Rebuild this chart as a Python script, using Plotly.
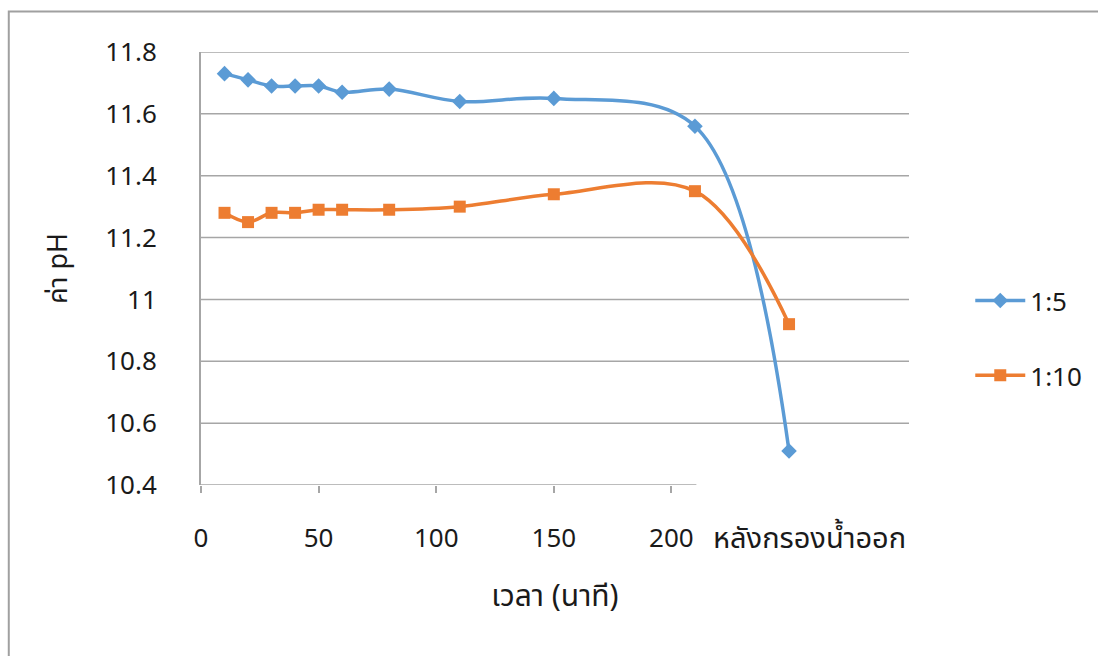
import plotly.graph_objects as go

x_vals = [10, 20, 30, 40, 50, 60, 80, 110, 150, 210, 250]
ph_1_5 = [11.73, 11.71, 11.69, 11.69, 11.69, 11.67, 11.68, 11.64, 11.65, 11.56, 10.51]
ph_1_10 = [11.28, 11.25, 11.28, 11.28, 11.29, 11.29, 11.29, 11.30, 11.34, 11.35, 10.92]
series_names = ["1:5", "1:10"]
x_ticks = [0, 50, 100, 150, 200]
y_ticks = [10.4, 10.6, 10.8, 11.0, 11.2, 11.4, 11.6, 11.8]
y_tick_text = ["10.4", "10.6", "10.8", "11", "11.2", "11.4", "11.6", "11.8"]
after_label = "หลังกรองน้ำออก"
x_title = "เวลา (นาที)"
y_title = "ค่า pH"

FONT = "Noto Sans, Noto Sans Thai, Leelawadee UI, Tahoma, DejaVu Sans, sans-serif"
TXT = "#1a1a1a"
GRID = "#a6a6a6"

fig = go.Figure()
fig.add_trace(go.Scatter(
    x=x_vals, y=ph_1_5, name=series_names[0], mode="lines+markers",
    line=dict(color="#5B9BD5", width=3.5, shape="spline", smoothing=1),
    marker=dict(symbol="diamond", size=12, color="#5B9BD5"),
    legendgroup="a"))
fig.add_trace(go.Scatter(
    x=x_vals, y=ph_1_10, name=series_names[1], mode="lines+markers",
    line=dict(color="#ED7D31", width=3.5, shape="spline", smoothing=1),
    marker=dict(symbol="square", size=12, color="#ED7D31"),
    legendgroup="b"))

# horizontal gridlines (except the bottom one, which is the axis line)
for v in y_ticks[1:]:
    fig.add_shape(type="line", xref="paper", yref="y", x0=0, x1=1, y0=v, y1=v,
                  line=dict(color=GRID, width=1.5), layer="below")
# bottom axis line, shorter than the plot area
fig.add_shape(type="line", xref="x", yref="y", x0=0, x1=210.6, y0=y_ticks[0], y1=y_ticks[0],
              line=dict(color=GRID, width=1.5), layer="below")
# outer chart border (clipped by the page)
fig.add_shape(type="rect", xref="paper", yref="paper", x0=-0.2715, x1=1.4, y0=-0.6, y1=1.0935,
              line=dict(color="#a0a0a0", width=2), fillcolor="rgba(0,0,0,0)")

fig.add_annotation(x=258.6, y=-0.12, xref="x", yref="paper", text=after_label,
                   showarrow=False, font=dict(family=FONT, size=29, color=TXT),
                   xanchor="center", yanchor="middle")

fig.update_layout(
    width=1098, height=656,
    margin=dict(l=201, r=188, t=52, b=171),
    paper_bgcolor="white", plot_bgcolor="white",
    font=dict(family=FONT, size=26, color=TXT),
    showlegend=True,
    legend=dict(x=1.085, y=0.48, xanchor="left", yanchor="top",
                font=dict(family=FONT, size=26, color=TXT),
                tracegroupgap=38, itemwidth=50, bgcolor="rgba(0,0,0,0)"),
    xaxis=dict(range=[0, 301], tickvals=x_ticks, showgrid=False, zeroline=False,
               showline=False, ticks="outside", ticklen=7, tickwidth=1.5, tickcolor=GRID,
               ticklabelstandoff=23,
               title=dict(text=x_title, standoff=30, font=dict(size=30))),
    yaxis=dict(range=[10.4, 11.8], tickvals=y_ticks, ticktext=y_tick_text,
               showgrid=False, zeroline=False, showline=True, linecolor=GRID, linewidth=2,
               ticks="", ticklabelstandoff=37,
               title=dict(text=y_title, standoff=30, font=dict(size=27))),
)

fig.write_html("out.html")
